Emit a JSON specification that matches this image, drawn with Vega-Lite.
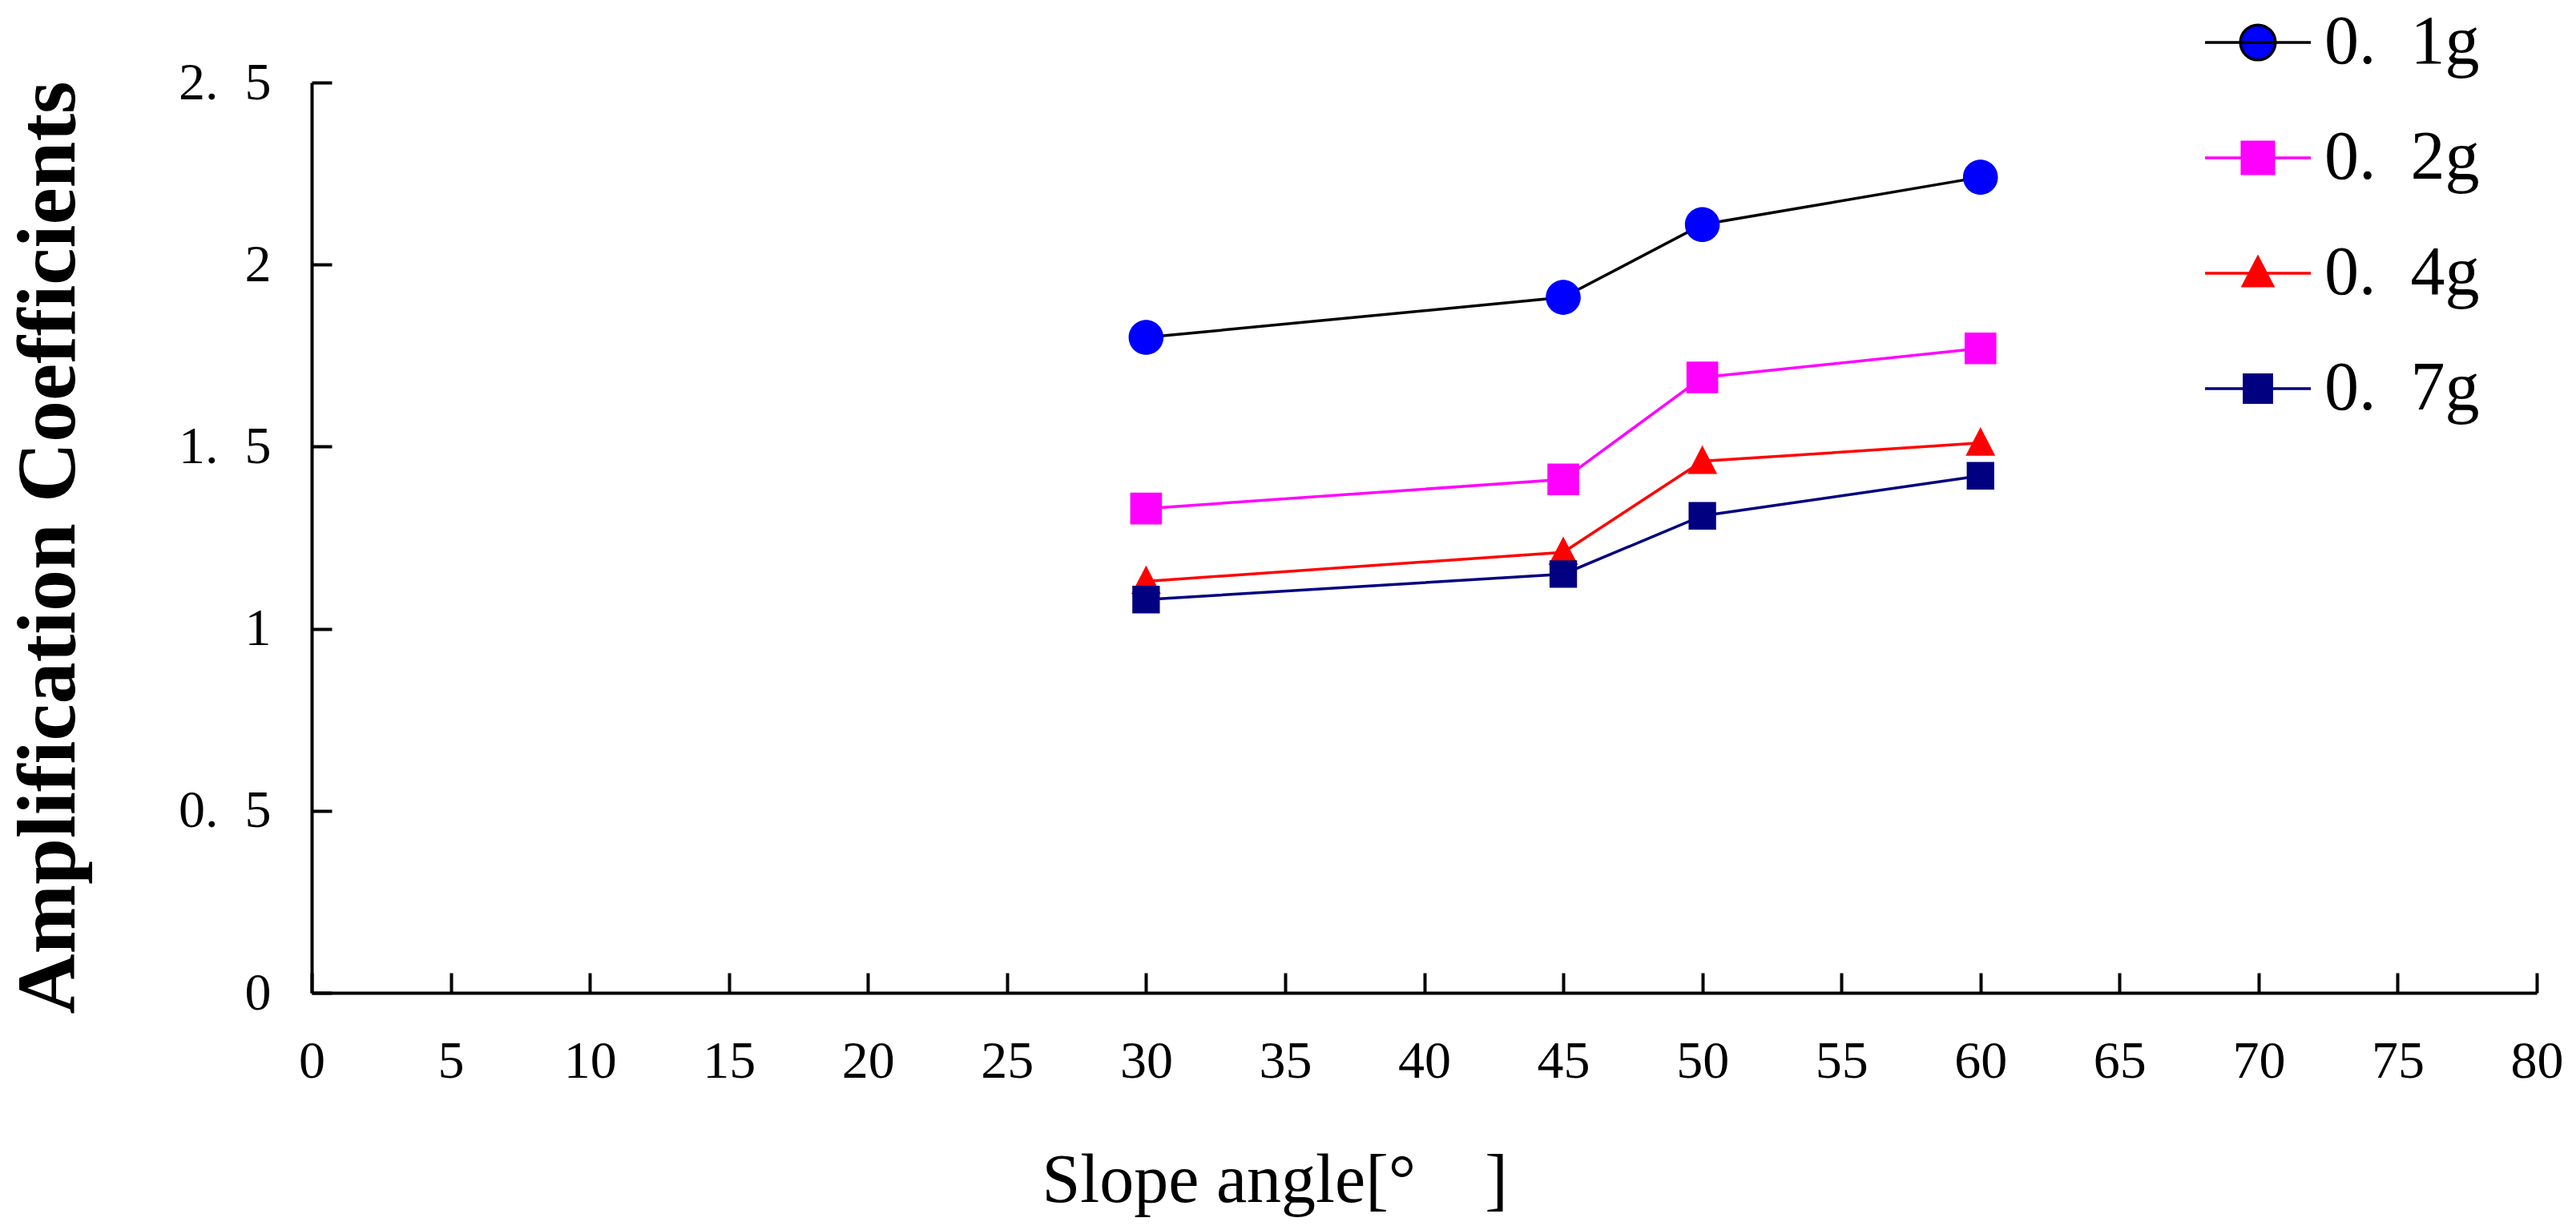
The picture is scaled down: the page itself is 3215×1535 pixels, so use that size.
{
  "$schema": "https://vega.github.io/schema/vega-lite/v6.json",
  "width": 2777,
  "height": 1136,
  "autosize": {"type": "none"},
  "padding": {"left": 389, "top": 103, "right": 49, "bottom": 296},
  "background": "white",
  "config": {
    "view": {"stroke": null},
    "font": "Liberation Serif"
  },
  "data": {
    "values": [
      {"angle": 30, "coef": 1.80, "series": "0.1g"},
      {"angle": 45, "coef": 1.91, "series": "0.1g"},
      {"angle": 50, "coef": 2.11, "series": "0.1g"},
      {"angle": 60, "coef": 2.24, "series": "0.1g"},
      {"angle": 30, "coef": 1.33, "series": "0.2g"},
      {"angle": 45, "coef": 1.41, "series": "0.2g"},
      {"angle": 50, "coef": 1.69, "series": "0.2g"},
      {"angle": 60, "coef": 1.77, "series": "0.2g"},
      {"angle": 30, "coef": 1.13, "series": "0.4g"},
      {"angle": 45, "coef": 1.21, "series": "0.4g"},
      {"angle": 50, "coef": 1.46, "series": "0.4g"},
      {"angle": 60, "coef": 1.51, "series": "0.4g"},
      {"angle": 30, "coef": 1.08, "series": "0.7g"},
      {"angle": 45, "coef": 1.15, "series": "0.7g"},
      {"angle": 50, "coef": 1.31, "series": "0.7g"},
      {"angle": 60, "coef": 1.42, "series": "0.7g"}
    ]
  },
  "encoding": {
    "x": {
      "field": "angle",
      "type": "quantitative",
      "scale": {"domain": [0, 80], "nice": false},
      "axis": {
        "values": [0, 5, 10, 15, 20, 25, 30, 35, 40, 45, 50, 55, 60, 65, 70, 75, 80],
        "grid": false,
        "domainColor": "black",
        "domainWidth": 4,
        "tickColor": "black",
        "tickWidth": 4,
        "tickSize": -25,
        "labelFont": "Liberation Serif",
        "labelFontSize": 66,
        "labelColor": "black",
        "labelPadding": 78,
        "labelFlush": false,
        "labelOverlap": false,
        "title": "Slope angle[°\u00a0\u00a0\u00a0\u00a0]",
        "titleFont": "Liberation Serif",
        "titleFontSize": 86,
        "titleFontWeight": "normal",
        "titleColor": "black",
        "titleAlign": "left",
        "titleBaseline": "alphabetic",
        "titleX": 911,
        "titleY": 260
      }
    },
    "y": {
      "field": "coef",
      "type": "quantitative",
      "scale": {"domain": [0, 2.5], "nice": false},
      "axis": {
        "values": [0, 0.5, 1, 1.5, 2, 2.5],
        "grid": false,
        "domainColor": "black",
        "domainWidth": 4,
        "tickColor": "black",
        "tickWidth": 4,
        "tickSize": -25,
        "labelFont": "Liberation Serif",
        "labelFontSize": 66,
        "labelColor": "black",
        "labelPadding": 76,
        "labelFlush": false,
        "labelExpr": "replace(toString(datum.value), '.', '.\u00a0\u00a0')",
        "title": "Amplification Coefficients",
        "titleFont": "Liberation Serif",
        "titleFontSize": 104,
        "titleFontWeight": "bold",
        "titleColor": "black",
        "titleAngle": -90,
        "titleAlign": "center",
        "titleBaseline": "alphabetic",
        "titleX": -297,
        "titleY": 580
      }
    }
  },
  "layer": [
    {
      "mark": {"type": "line", "strokeWidth": 3.5},
      "encoding": {
        "stroke": {
          "field": "series",
          "type": "nominal",
          "scale": {
            "domain": ["0.1g", "0.2g", "0.4g", "0.7g"],
            "range": ["#000000", "#FF00FF", "#FF0000", "#000080"]
          },
          "legend": {
            "title": null,
            "orient": "none",
            "legendX": 2361,
            "legendY": -118,
            "padding": 0,
            "symbolSize": 17424,
            "symbolStrokeWidth": 3.5,
            "labelFont": "Liberation Serif",
            "labelFontSize": 86,
            "labelColor": "black",
            "labelLimit": 500,
            "labelOffset": 15,
            "rowPadding": 33,
            "labelExpr": "replace(datum.label, '.', '.\u00a0\u00a0')"
          }
        }
      }
    },
    {
      "mark": {"type": "point", "filled": true, "opacity": 1, "size": 17424},
      "encoding": {
        "fill": {
          "field": "series",
          "type": "nominal",
          "scale": {
            "domain": ["0.1g", "0.2g", "0.4g", "0.7g"],
            "range": ["#0000FF", "#FF00FF", "#FF0000", "#000080"]
          }
        },
        "shape": {
          "field": "series",
          "type": "nominal",
          "scale": {
            "domain": ["0.1g", "0.2g", "0.4g", "0.7g"],
            "range": [
              "M-1,0H1M0.33,0A0.33,0.33,0,1,1,-0.33,0A0.33,0.33,0,1,1,0.33,0Z",
              "M-1,0H1M-0.3,-0.3H0.3V0.3H-0.3Z",
              "M-1,0H1M0,-0.3L0.28,0.24H-0.28Z",
              "M-1,0H1M-0.26,-0.26H0.26V0.26H-0.26Z"
            ]
          }
        }
      }
    }
  ]
}
